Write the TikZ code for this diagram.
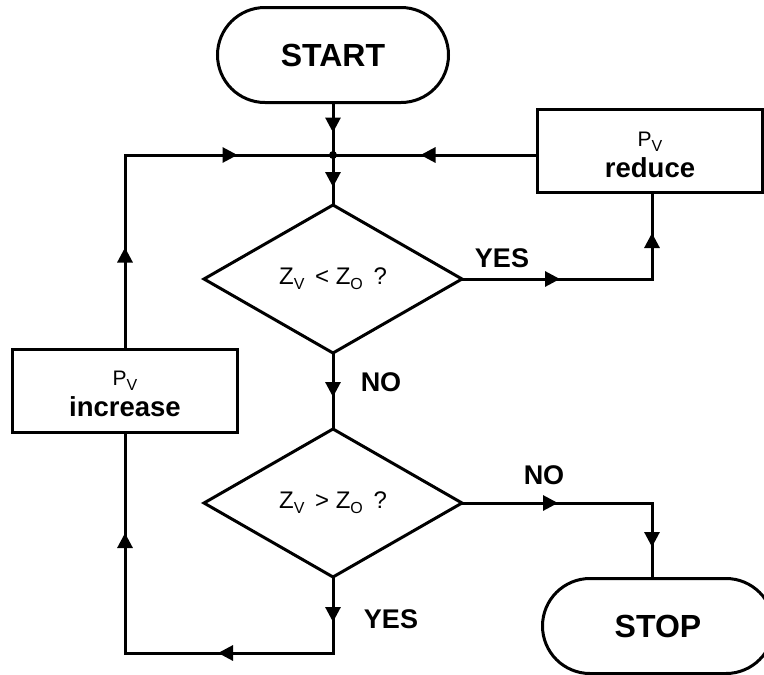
\documentclass[tikz,border=0pt]{standalone}
\usepackage{fontspec}
\setmainfont{Liberation Sans}
\usetikzlibrary{shapes.geometric,shapes.misc,arrows.meta,decorations.markings}
\newcommand{\subv}[3]{#1\raisebox{-5pt}{\fontsize{#3}{#3}\selectfont #2}}
\newcommand{\atip}{\arrow{Triangle[length=15pt,width=15pt]}}
\begin{document}
\begin{tikzpicture}[x=1pt,y=-1pt,
  every node/.style={inner sep=0pt, outer sep=0pt},
  conn/.style={line width=3pt, line join=miter},
  term/.style={draw, line width=3pt, rounded rectangle, minimum width=231pt, minimum height=95pt, font=\fontsize{32}{32}\selectfont\bfseries},
  decis/.style={draw, line width=3pt, diamond, minimum width=258pt, minimum height=148pt, font=\fontsize{24}{24}\selectfont},
  proc/.style={draw, line width=3pt, rectangle, minimum width=225pt, minimum height=83pt, align=center, font=\fontsize{27.5}{31}\selectfont},
  lab/.style={font=\fontsize{27}{27}\selectfont\bfseries},
  am/.style={postaction={decorate, decoration={markings, mark=at position #1 with {\atip}}}}
]
\useasboundingbox (0,0) rectangle (764,675);
\coordinate (J) at (333,155);
\coordinate (cl) at (125,155);
\coordinate (c1) at (652,279);
\coordinate (c2) at (652,503);
\coordinate (c3) at (333,653);
\coordinate (c4) at (125,653);

\node[term] (start) at (333,55) {START};
\node[decis] (d1) at (333,279) {\subv{Z}{V}{16}\, < \subv{Z}{O}{16}\, ?};
\node[decis] (d2) at (333,503) {\subv{Z}{V}{16}\, > \subv{Z}{O}{16}\, ?};
\node[proc] (red) at (650,151) {{\rule{0pt}{23pt}\fontsize{21}{21}\selectfont\subv{P}{V}{16}}\\{\bfseries reduce}};
\node[proc] (inc) at (125,391) {{\rule{0pt}{21pt}\fontsize{21}{21}\selectfont\subv{P}{V}{16}}\\{\bfseries increase}};
\node[term] (stop) at (658,626) {STOP};

\draw[conn, am=30pt] (start.south) -- (J);
\draw[conn, am=32pt] (J) -- (d1.north);
\draw[conn, am=102pt, am=307pt] (inc.north) -- (cl) -- (J);
\draw[conn, am=117pt] (red.west |- J) -- (J);
\draw[conn, am=98pt, am=236pt] (d1.east) -- (c1) -- (c1 |- red.south);
\draw[conn, am=44pt] (d1.south) -- (d2.north);
\draw[conn, am=96pt, am=234pt] (d2.east) -- (c2) -- (c2 |- stop.north);
\draw[conn, am=45pt, am=191pt, am=404pt] (d2.south) -- (c3) -- (c4) -- (inc.south);
\fill (J) circle (4);

\node[lab] (yes1) at (502,258) {YES};
\node[lab] (no1) at (381,382) {NO};
\node[lab] (no2) at (544,475) {NO};
\node[lab] (yes2) at (391,619) {YES};
\end{tikzpicture}
\end{document}
